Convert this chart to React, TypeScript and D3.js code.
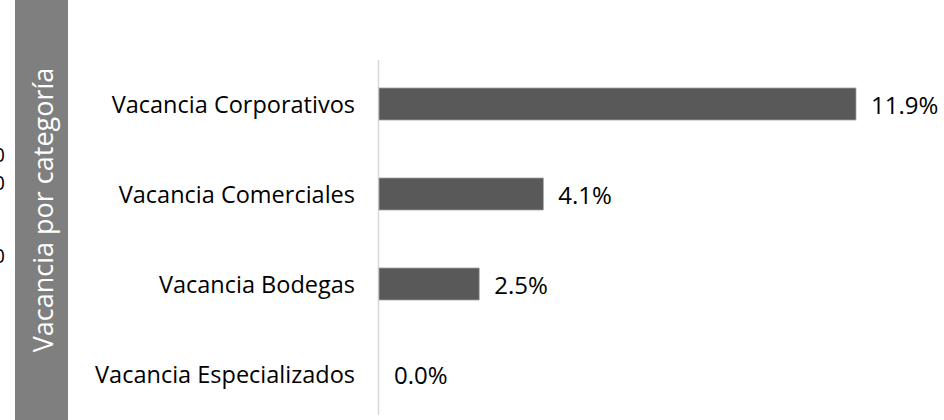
import React from "react";
import * as d3 from "d3";

const categories = [
  "Vacancia Corporativos",
  "Vacancia Comerciales",
  "Vacancia Bodegas",
  "Vacancia Especializados",
];
const values = [11.9, 4.1, 2.5, 0.0];
const title = "Vacancia por categoría";
const strayTicks = ["0", "0", "0"];
const strayTickY = [154, 182, 255];

const W = 944;
const H = 420;
const FONT = "'Open Sans', 'Noto Sans', sans-serif";

export default function App() {
  const x = d3.scaleLinear().domain([0, 11.9]).range([379, 856]);
  const y = d3
    .scaleBand<string>()
    .domain(categories)
    .range([59, 419])
    .paddingInner(0.644)
    .paddingOuter(0.322);
  const fmt = (v: number) => v.toFixed(1) + "%";

  return (
    <svg
      width={W}
      height={H}
      style={{ position: "absolute", left: 0, top: 0, background: "#fff" }}
      fontFamily={FONT}
    >
      {strayTicks.map((t, i) => (
        <text key={"s" + i} x={5} y={strayTickY[i]} textAnchor="end" dominantBaseline="central" fontSize={20} fill="#000">
          {t}
        </text>
      ))}
      <rect x={15} y={0} width={53} height={H} fill="#7f7f7f" />
      <text
        transform={`translate(42,210) rotate(-90)`}
        textAnchor="middle"
        dominantBaseline="central"
        fontSize={27}
        fill="#fff"
      >
        {title}
      </text>
      <line x1={378.5} x2={378.5} y1={60} y2={415} stroke="#d9d9d9" strokeWidth={1.5} />
      {categories.map((c, i) => {
        const by = y(c)!;
        const bh = y.bandwidth();
        const v = values[i];
        return (
          <g key={c}>
            <text x={355} y={by + bh / 2} textAnchor="end" dominantBaseline="central" fontSize={23.5} fill="#000">
              {c}
            </text>
            {v > 0 && (
              <rect
                x={x(0)}
                y={by}
                width={x(v) - x(0)}
                height={bh}
                fill="#595959"
                stroke="#a6a6a6"
                strokeWidth={0.75}
              />
            )}
            <text x={x(v) + 15} y={by + bh / 2} dominantBaseline="central" fontSize={24} fill="#000">
              {fmt(v)}
            </text>
          </g>
        );
      })}
    </svg>
  );
}
